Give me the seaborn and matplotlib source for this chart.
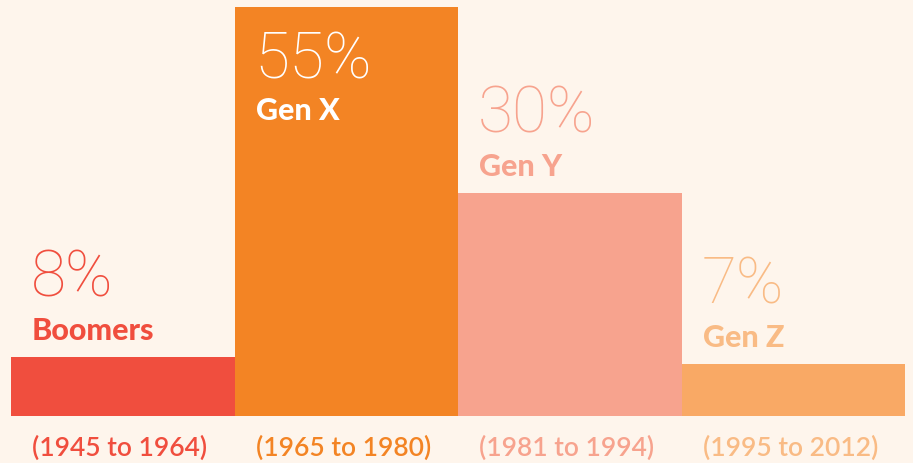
import matplotlib.pyplot as plt
import pandas as pd
import seaborn as sns

generations = ["Boomers", "Gen X", "Gen Y", "Gen Z"]
shares = [8, 55, 30, 7]
years = ["(1945 to 1964)", "(1965 to 1980)", "(1981 to 1994)", "(1995 to 2012)"]
colors = ["#F04E3E", "#F38424", "#F7A38E", "#F9A965"]
label_colors = ["#F04E3E", "#FFFFFF", "#F7A38E", "#F9BB85"]
year_colors = ["#F04E3E", "#F38424", "#F7A38E", "#F9BB85"]

BG = "#FEF5EC"
PX = 72 / 100  # points per pixel at dpi 100

df = pd.DataFrame({"generation": generations, "share": shares})

sns.set_theme(style="white")
plt.rcParams["font.family"] = ["Lato", "DejaVu Sans"]

fig = plt.figure(figsize=(9.13, 4.63), dpi=100, facecolor=BG)
ax = fig.add_axes([11 / 913, 47 / 463, 894 / 913, 409 / 463])
ax.set_facecolor(BG)

sns.barplot(
    data=df,
    x="generation",
    y="share",
    hue="generation",
    palette=colors,
    width=1.0,
    legend=False,
    saturation=1,
    linewidth=0,
    ax=ax,
)
ax.set_xlim(-0.5, len(generations) - 0.5)
ax.set_ylim(0, 55)
ax.axis("off")

for i, (name, val) in enumerate(zip(generations, shares)):
    left = i - 0.5
    inside = val == max(shares)
    if inside:
        pct_off, name_off = -71, -113
    else:
        pct_off, name_off = 60, 17
    ax.annotate(
        f"{val}%", xy=(left, val), xytext=(20 * PX, pct_off * PX),
        textcoords="offset points", ha="left", va="baseline",
        fontsize=46, fontweight="light", family=["Roboto", "DejaVu Sans"],
        color=label_colors[i], annotation_clip=False,
    )
    ax.annotate(
        name, xy=(left, val), xytext=(21 * PX, name_off * PX),
        textcoords="offset points", ha="left", va="baseline",
        fontsize=22, fontweight="black", color=label_colors[i],
        annotation_clip=False,
    )
    ax.annotate(
        years[i], xy=(left, 0), xytext=(21 * PX, -40 * PX),
        textcoords="offset points", ha="left", va="baseline",
        fontsize=19, fontweight="semibold", color=year_colors[i],
        annotation_clip=False,
    )

fig.savefig("out.png", dpi=100, facecolor=BG)
